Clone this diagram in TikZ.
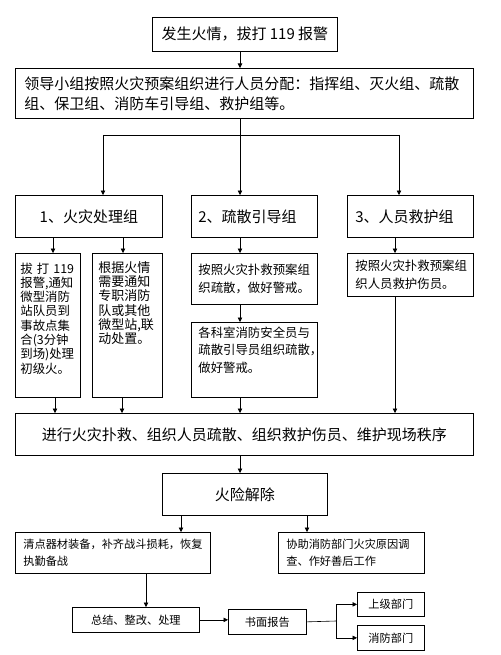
\documentclass[tikz,border=0pt]{standalone}
\usepackage{fontspec}
\setmainfont{Noto Sans CJK SC}
\usetikzlibrary{arrows.meta}
\tikzset{
  box/.style={draw, line width=0.7pt, anchor=north west, inner ysep=2pt},
  arr/.style={line width=0.6pt, -{Triangle[length=4.5pt,width=4.5pt]}},
  link/.style={line width=0.6pt},
  big/.style={font=\fontsize{15}{20}\selectfont},
  mid/.style={font=\fontsize{12.4}{17.7}\selectfont},
  narrow/.style={font=\fontsize{12.4}{14.3}\selectfont},
  small/.style={font=\fontsize{11.2}{17}\selectfont}
}
\begin{document}
\begin{tikzpicture}[x=1pt,y=-1pt]
\useasboundingbox (0,0) rectangle (500,655);
\node[box,big,minimum width=185pt,minimum height=34pt] (alarm) at (152,17) {发生火情，拔打 119 报警};
\node[box,big,minimum height=50pt,text width=440pt,inner xsep=9pt,align=left] (assign) at (15,68)
  {领导小组按照火灾预案组织进行人员分配：指挥组、灭火组、疏散\\组、保卫组、消防车引导组、救护组等。};
\node[box,big,minimum width=147pt,minimum height=42pt] (handle) at (15,195) {1、火灾处理组};
\node[box,big,minimum height=42pt,text width=112pt,inner xsep=7pt,align=left] (evac) at (191,195) {2、疏散引导组};
\node[box,big,minimum height=42pt,text width=110pt,inner xsep=8pt,align=left] (rescue) at (347,195) {3、人员救护组};
\node[box,narrow,minimum height=144pt,text width=55pt,inner xsep=5pt,align=left,text depth=115pt] (call) at (15,253)
  {\mbox{拔~打~119}\\报警,通知\\微型消防\\站队员到\\事故点集\\合(3分钟\\到场)处理\\初级火。};
\node[box,narrow,font=\fontsize{13}{14.3}\selectfont,minimum height=144pt,text width=58pt,inner xsep=6pt,align=left,text depth=117pt] (notify) at (92,253)
  {根据火情\\需要通知\\专职消防\\队或其他\\微型站,联\\动处置。};
\node[box,mid,minimum height=51pt,text width=112pt,inner xsep=7pt,align=left] (guide) at (191,253)
  {按照火灾扑救预案组\\织疏散，做好警戒。};
\node[box,mid,minimum height=75pt,text width=112pt,inner xsep=7pt,align=left,text depth=56pt] (staff) at (191,322)
  {各科室消防安全员与\\疏散引导员组织疏散，\\做好警戒。};
\node[box,mid,minimum height=43pt,text width=110pt,inner xsep=8pt,align=left] (aid) at (347,253)
  {按照火灾扑救预案组\\织人员救护伤员。};
\node[box,big,minimum width=458pt,minimum height=42pt] (action) at (15,413)
  {进行火灾扑救、组织人员疏散、组织救护伤员、维护现场秩序};
\node[box,big,minimum width=165pt,minimum height=42pt] (clear) at (162,473) {火险解除};
\node[box,small,minimum height=41pt,text width=179pt,inner xsep=8pt,align=left] (restore) at (15,532)
  {清点器材装备，补齐战斗损耗，恢复\\执勤备战};
\node[box,small,minimum height=41pt,text width=130pt,inner xsep=8pt,align=left] (assist) at (278,532)
  {协助消防部门火灾原因调\\查、作好善后工作};
\node[box,small,minimum width=127pt,minimum height=25pt] (sum) at (72,607) {总结、整改、处理};
\node[box,small,minimum width=78pt,minimum height=25pt] (report) at (228,609) {书面报告};
\node[box,small,minimum width=67pt,minimum height=24pt] (upper) at (357,592) {上级部门};
\node[box,small,minimum width=67pt,minimum height=25pt] (dept) at (357,625) {消防部门};
% branch points and line positions
\coordinate (split) at (240,135);
\coordinate (jl) at (103,135);
\coordinate (jr) at (399,135);
\coordinate (p1) at (53,0);
\coordinate (p2) at (123,0);
\coordinate (p3) at (395,0);
\coordinate (q1) at (55,0);
\coordinate (q2) at (122,0);
\coordinate (r1) at (181,0);
\coordinate (r2) at (307,0);
\coordinate (r3) at (146,0);
\coordinate (fork) at (336,621);
\draw[arr] (alarm.south -| split) -- (assign.north -| split);
\draw[link] (assign.south -| split) -- (split);
\draw[link] (jl) -- (jr);
\draw[arr] (jl) -- (jl |- handle.north);
\draw[arr] (split) -- (split |- evac.north);
\draw[arr] (jr) -- (jr |- rescue.north);
\draw[arr] (handle.south -| p1) -- (call.north -| p1);
\draw[arr] (handle.south -| p2) -- (notify.north -| p2);
\draw[arr] (evac.south -| split) -- (guide.north -| split);
\draw[arr] (guide.south -| split) -- (staff.north -| split);
\draw[arr] (rescue.south -| p3) -- (aid.north -| p3);
\draw[arr] (call.south -| q1) -- (action.north -| q1);
\draw[arr] (notify.south -| q2) -- (action.north -| q2);
\draw[arr] (staff.south -| split) -- (action.north -| split);
\draw[arr] (aid.south -| p3) -- (action.north -| p3);
\draw[arr] (action.south -| split) -- (clear.north -| split);
\draw[arr] (clear.south -| r1) -- (restore.north -| r1);
\draw[arr] (clear.south -| r2) -- (assist.north -| r2);
\draw[arr] (restore.south -| r3) -- (sum.north -| r3);
\draw[arr] (sum.east) -- (sum.east -| report.west);
\draw[link] (report.east) -- (fork);
\draw[link] (fork |- upper) -- (fork |- dept);
\draw[arr] (fork |- upper) -- (upper.west);
\draw[arr] (fork |- dept) -- (dept.west);
\end{tikzpicture}
\end{document}
